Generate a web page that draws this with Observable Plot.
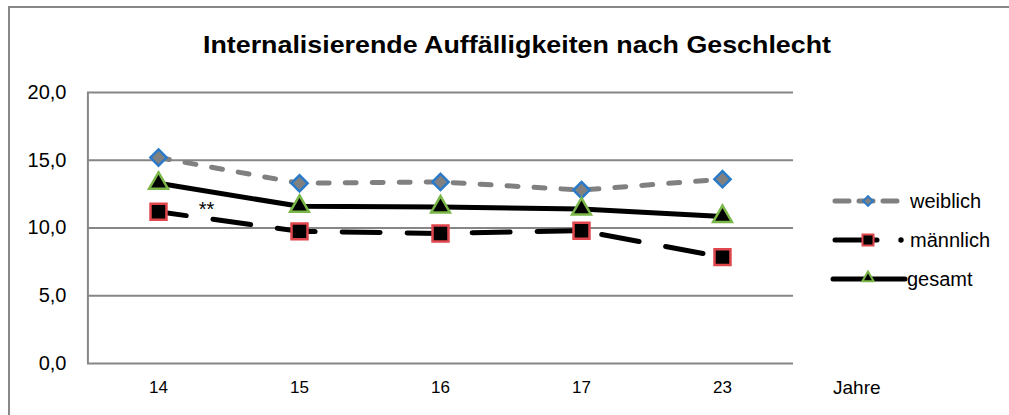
<!DOCTYPE html>
<html>
<head>
<meta charset="utf-8">
<script src="https://cdn.jsdelivr.net/npm/d3@7"></script>
<script src="https://cdn.jsdelivr.net/npm/@observablehq/plot@0.6"></script>
<style>
  body { margin: 0; background: #fff; }
  svg { font-family: "Liberation Sans", Arial, sans-serif; }
</style>
</head>
<body>
<div id="chart"></div>
<script>
const years = ["14", "15", "16", "17", "23"];
const weiblich = [15.2, 13.3, 13.4, 12.8, 13.6];
const maennlich = [11.2, 9.75, 9.6, 9.8, 7.85];
const gesamt = [13.3, 11.6, 11.55, 11.4, 10.85];
const yTicks = [0, 5, 10, 15, 20];
const seriesNames = ["weiblich", "männlich", "gesamt"];
const titleText = "Internalisierende Auffälligkeiten nach Geschlecht";
const xLabel = "Jahre";
const annotation = "**";

const rows = (vals, s) => years.map((y, i) => ({year: y, value: vals[i], series: s}));
const dW = rows(weiblich, "weiblich");
const dM = rows(maennlich, "männlich");
const dG = rows(gesamt, "gesamt");

const fmt = d => d3.format(".1f")(d).replace(".", ",");

const plot = Plot.plot({
  width: 1009,
  height: 415,
  marginLeft: 87,
  marginRight: 216,
  marginTop: 92,
  marginBottom: 52,
  style: {fontFamily: "'Liberation Sans', Arial, sans-serif", fontSize: "19px", color: "#000", background: "#fff"},
  x: {type: "point", domain: years, padding: 0.5, label: null},
  y: {domain: [0, 20], ticks: yTicks, label: null},
  marks: [
    Plot.ruleY(yTicks, {stroke: "#868686", strokeWidth: 2}),
    Plot.ruleX([years[0]], {y1: 0, y2: 20, dx: -70.6, stroke: "#868686", strokeWidth: 2}),
    Plot.axisY({ticks: yTicks, tickSize: 0, tickPadding: 21, tickFormat: fmt, fill: "#000", fontSize: 19}),
    Plot.axisX({tickSize: 0, tickPadding: 17, fill: "#000", fontSize: 17}),
    Plot.line(dW, {x: "year", y: "value", stroke: "#808080", strokeWidth: 5, strokeDasharray: "11,16", strokeLinecap: "round"}),
    Plot.line(dM, {x: "year", y: "value", stroke: "#000", strokeWidth: 5, strokeDasharray: "38,27", strokeLinecap: "round", strokeDashoffset: 10}),
    Plot.line(dG, {x: "year", y: "value", stroke: "#000", strokeWidth: 5}),
    Plot.dot(dW, {x: "year", y: "value", symbol: "diamond2", r: 7.3, fill: "#808080", stroke: "#2a7ac8", strokeWidth: 2.5}),
    Plot.dot(dM, {x: "year", y: "value", symbol: "square", r: 9, fill: "#000", stroke: "#e0474c", strokeWidth: 2.5}),
    Plot.dot(dG, {x: "year", y: "value", symbol: "triangle", r: 7, fill: "#000", stroke: "#7ab648", strokeWidth: 2.5}),
    Plot.text([dM[0]], {x: "year", y: "value", text: () => annotation, dx: 48, dy: -2, fill: "#000", fontSize: 20})
  ]
});

const svg = d3.select(plot);
svg.insert("rect", ":first-child")
  .attr("x", 9).attr("y", 7).attr("width", 1010).attr("height", 420)
  .attr("fill", "none").attr("stroke", "#888").attr("stroke-width", 2);

document.getElementById("chart").appendChild(plot);

svg.selectAll("g[aria-label='y-axis tick label'] text").style("font-size", "20px");
svg.selectAll("g[aria-label='x-axis tick label'] text").style("font-size", "17px");

svg.append("text").attr("x", 203).attr("y", 53).attr("text-anchor", "start")
  .attr("textLength", 628).attr("lengthAdjust", "spacingAndGlyphs")
  .style("font-size", "24px").style("font-weight", "bold").attr("fill", "#000").text(titleText);

svg.append("text").attr("x", 833).attr("y", 387).attr("dy", "0.35em").attr("text-anchor", "start")
  .style("font-size", "19px").attr("fill", "#000").text(xLabel);

// legend
const lg = svg.append("g");
const lx = 833, lt = 910;
const ly = [201, 240, 279];
// weiblich
lg.append("line").attr("x1", lx + 2).attr("x2", 897).attr("y1", ly[0]).attr("y2", ly[0])
  .attr("stroke", "#808080").attr("stroke-width", 5).attr("stroke-linecap", "round").attr("stroke-dasharray", "14,10");
lg.append("path").attr("d", d3.symbol(d3.symbolDiamond2, 60)()).attr("transform", `translate(868,${ly[0]})`)
  .attr("fill", "#808080").attr("stroke", "#2a7ac8").attr("stroke-width", 2);
// männlich
lg.append("line").attr("x1", lx + 2).attr("x2", 877).attr("y1", ly[1]).attr("y2", ly[1])
  .attr("stroke", "#000").attr("stroke-width", 5).attr("stroke-linecap", "round");
lg.append("circle").attr("cx", 901).attr("cy", ly[1]).attr("r", 2.7).attr("fill", "#000");
lg.append("rect").attr("x", 868 - 5.5).attr("y", ly[1] - 5.5).attr("width", 11).attr("height", 11)
  .attr("fill", "#000").attr("stroke", "#e0474c").attr("stroke-width", 2);
// gesamt
lg.append("line").attr("x1", lx).attr("x2", 905).attr("y1", ly[2]).attr("y2", ly[2])
  .attr("stroke", "#000").attr("stroke-width", 5).attr("stroke-linecap", "round");
lg.append("path").attr("d", d3.symbol(d3.symbolTriangle, 55)()).attr("transform", `translate(868,${ly[2] - 1})`)
  .attr("fill", "#000").attr("stroke", "#7ab648").attr("stroke-width", 2);

seriesNames.forEach((n, i) => {
  lg.append("text").attr("x", i === 2 ? 907 : lt).attr("y", ly[i]).attr("dy", "0.35em")
    .attr("text-anchor", "start")
    .style("font-size", "20px").attr("fill", "#000").text(n);
});
</script>
</body>
</html>
